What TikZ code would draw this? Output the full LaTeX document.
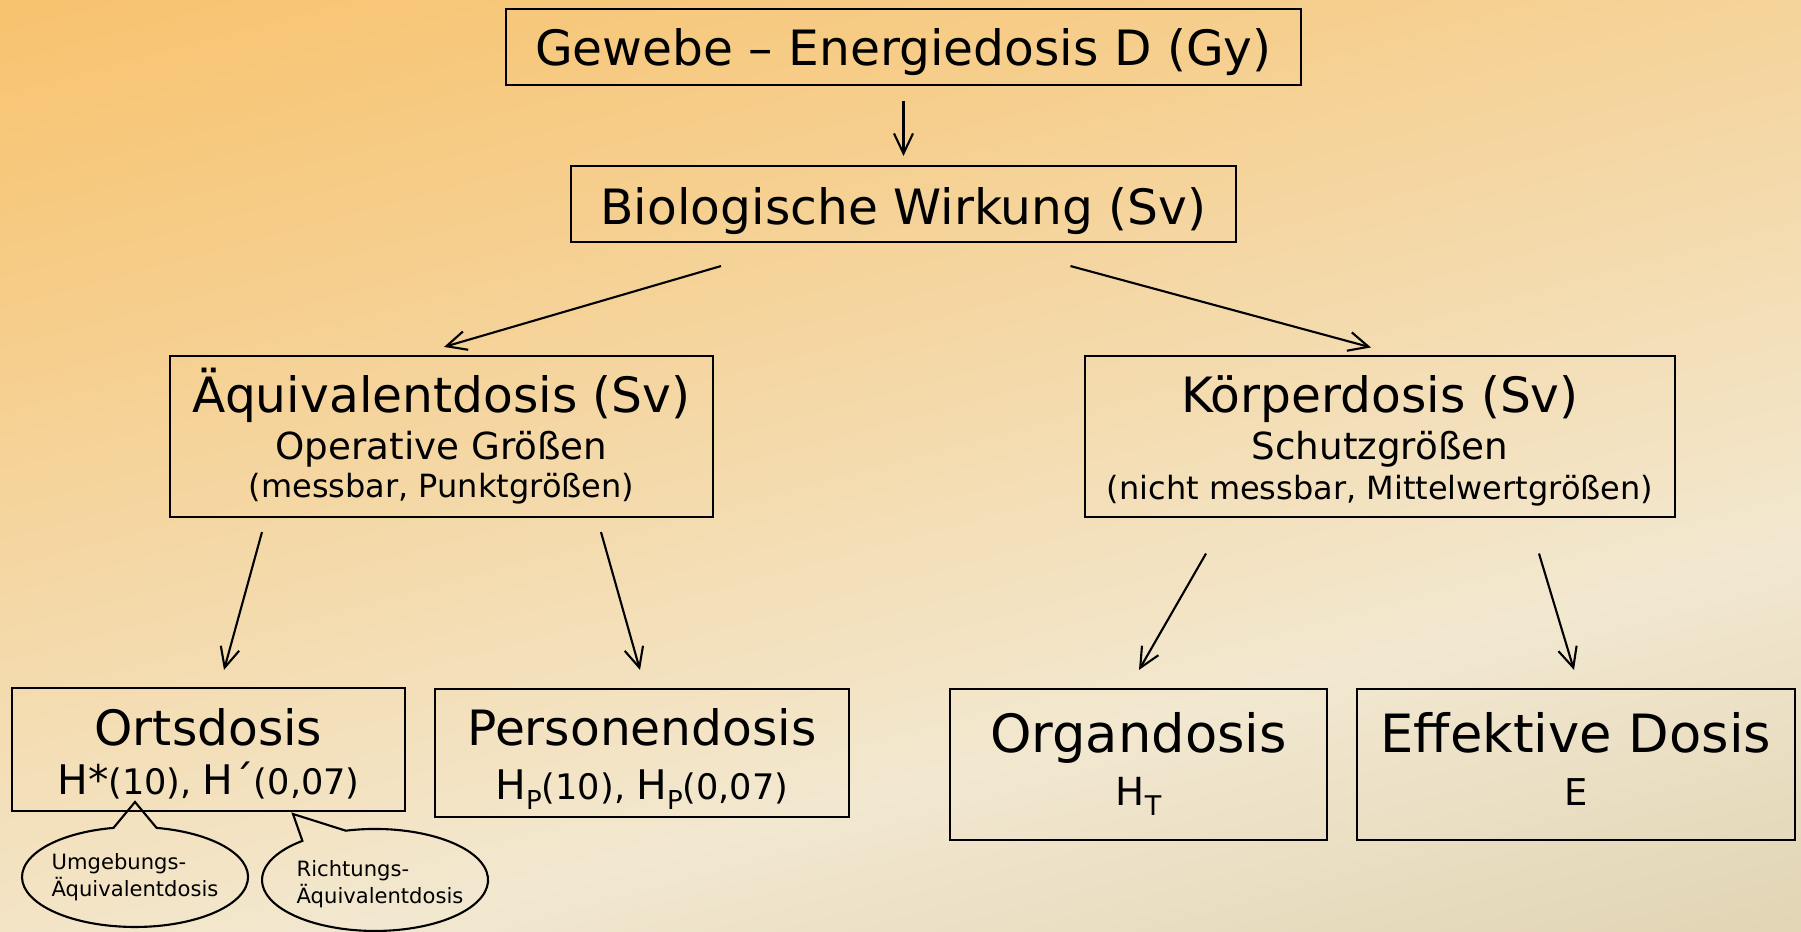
\documentclass[tikz,border=0pt]{standalone}
\usepackage{fontspec}
\setmainfont{DejaVu Sans}
\usetikzlibrary{arrows.meta}

\definecolor{bgorange}{RGB}{249,180,72}
\definecolor{bglight}{RGB}{246,204,135}
\definecolor{bgcream}{RGB}{242,232,208}
\definecolor{bgtan}{RGB}{206,190,150}
\pgfdeclareverticalshading{bgshade}{100bp}{color(0bp)=(bgtan); color(36bp)=(bgcream); color(68bp)=(bglight); color(100bp)=(bgorange)}

\tikzset{
  box/.style={draw, line width=0.6pt, inner sep=0pt},
  arr/.style={-{Straight Barb[length=2mm,width=1.9mm]}, line width=0.6pt},
  tbig/.style={anchor=base, font=\fontsize{13.85}{16}\selectfont},
  thuge/.style={anchor=base, font=\fontsize{15}{18}\selectfont},
  tmid/.style={anchor=base, font=\fontsize{10.6}{12}\selectfont},
  tsmall/.style={anchor=base, font=\fontsize{9.1}{11}\selectfont},
  tform/.style={anchor=base, font=\fontsize{10}{12}\selectfont},
  tcall/.style={align=left, font=\fontsize{6}{7.6}\selectfont},
  callout/.style={line width=0.6pt}
}

\begin{document}
\begin{tikzpicture}[x=0.1mm, y=-0.1mm]
\shade[shading=bgshade, shading angle=15] (0,0) rectangle (1801,932);
\useasboundingbox (0,0) rectangle (1801,932);

% top
\node[box, minimum width=7.95cm, minimum height=0.76cm] (gew) at (903.5,47) {};
\node[tbig] (gewt) at (903.5,66) {Gewebe – Energiedosis D (Gy)};

\node[box, minimum width=6.65cm, minimum height=0.76cm] (bio) at (903.5,204) {};
\node[tbig] (biot) at (903.5,225) {Biologische Wirkung (Sv)};

% middle
\node[box, minimum width=5.43cm, minimum height=1.61cm] (aeq) at (441.5,436.5) {};
\node[tbig] (aeqt) at (441.5,413) {Äquivalentdosis (Sv)};
\node[tmid] (aeqm) at (441.5,460) {Operative Größen};
\node[tsmall] (aeqs) at (441.5,498) {(messbar, Punktgrößen)};

\node[box, minimum width=5.90cm, minimum height=1.61cm] (koe) at (1380,436.5) {};
\node[tbig] (koet) at (1380,413) {Körperdosis (Sv)};
\node[tmid] (koem) at (1380,460) {Schutzgrößen};
\node[tsmall] (koes) at (1380,500) {(nicht messbar, Mittelwertgrößen)};

% bottom
\node[box, minimum width=3.93cm, minimum height=1.23cm] (ort) at (208.5,749.5) {};
\node[tbig] (ortt) at (208.5,746) {Ortsdosis};
\node[tform] (ortf) at (208.5,795) {{\fontsize{11.6}{13}\selectfont H*}(10), {\fontsize{11.6}{13}\selectfont H´}(0,07)};

\node[box, minimum width=4.14cm, minimum height=1.28cm] (per) at (642,753) {};
\node[tbig] (pert) at (642,746) {Personendosis};
\node[tform] (perf) at (642,800) {{\fontsize{11.6}{13}\selectfont H}\raisebox{-2.8pt}{\fontsize{7.4}{8}\selectfont P}(10), {\fontsize{11.6}{13}\selectfont H}\raisebox{-2.8pt}{\fontsize{7.4}{8}\selectfont P}(0,07)};

\node[box, minimum width=3.77cm, minimum height=1.51cm] (org) at (1138.5,764.5) {};
\node[thuge] (orgt) at (1138.5,753) {Organdosis};
\node[anchor=base, font=\fontsize{11}{13}\selectfont] (orgf) at (1138.5,806) {H\raisebox{-2.8pt}{\fontsize{7.7}{9}\selectfont T}};

\node[box, minimum width=4.38cm, minimum height=1.51cm] (eff) at (1576,764.5) {};
\node[thuge] (efft) at (1576,753) {Effektive Dosis};
\node[anchor=base, font=\fontsize{10.5}{13}\selectfont] (efff) at (1576,806) {E};

% arrows
\draw[arr, shorten <=1.5mm, shorten >=0.9mm] (gew.south) -- (bio.north);
\draw[arr] ([shift={(-182.5,23)}]bio.south) -- ([shift={(2.5,-8)}]aeq.north);
\draw[arr] ([shift={(167,23)}]bio.south) -- ([shift={(-9,-7.5)}]koe.north);
\draw[arr] ([shift={(-179.5,14)}]aeq.south) -- ([shift={(15.5,-17)}]ort.north);
\draw[arr] ([shift={(159.5,14)}]aeq.south) -- ([shift={(-2,-18)}]per.north);
\draw[arr] ([shift={(-174,35.5)}]koe.south) -- ([shift={(0.5,-18)}]org.north);
\draw[arr] ([shift={(159,35.5)}]koe.south) -- ([shift={(-2,-18)}]eff.north);

% callouts
\draw[callout] (156.6,827.9) arc[start angle=-79, end angle=259, x radius=113, y radius=50] -- (135,802) -- cycle;
\node[tcall] (umg) at (135,877) {Umgebungs-\\Äquivalentdosis};
\draw[callout] (345.8,830.7) arc[start angle=-105, end angle=230, x radius=113, y radius=51] -- (293,814) -- cycle;
\node[tcall] (ric) at (380,884) {Richtungs-\\Äquivalentdosis};
\end{tikzpicture}
\end{document}
